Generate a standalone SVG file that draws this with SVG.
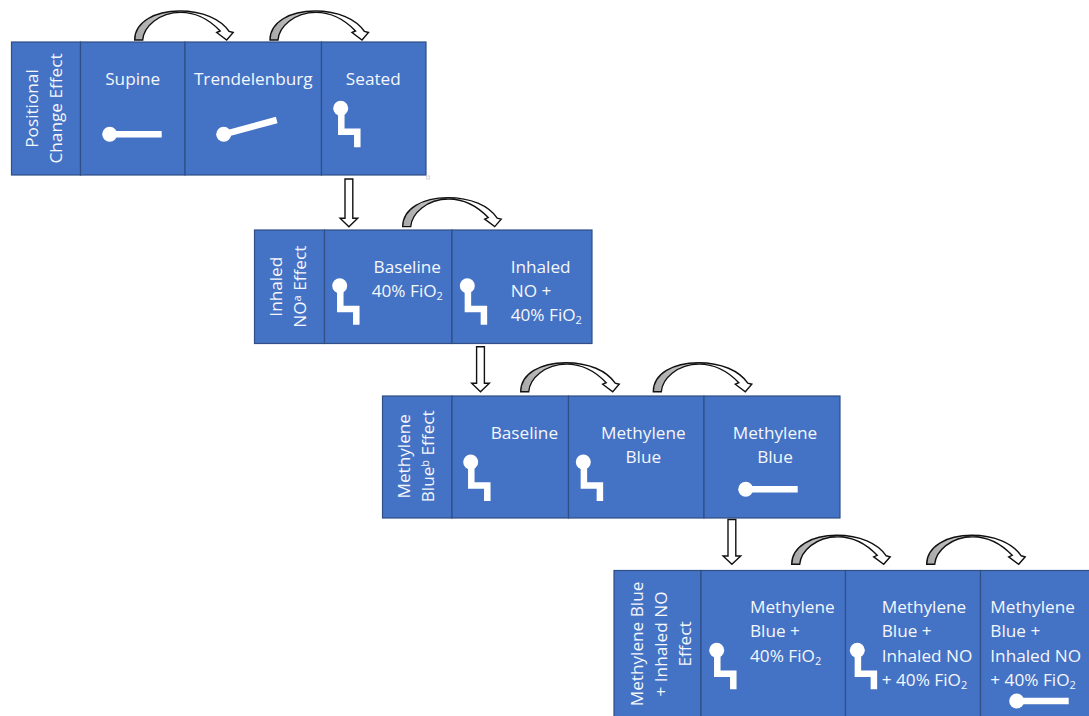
<svg xmlns="http://www.w3.org/2000/svg" width="1089" height="716" viewBox="0 0 1089 716">
<style>
.bg{fill:#4472c4;stroke:#2f4f86;stroke-width:1.2}
.t{font-family:"Open Sans","Noto Sans","Liberation Sans",sans-serif;font-size:17.2px;fill:#f4f7fc}
.m{text-anchor:middle}
.w{fill:#fff;stroke:none}
.wl{fill:none;stroke:#fff;stroke-width:6.5}
.conn{stroke:#111;stroke-width:1.4;stroke-linejoin:miter}
.down{fill:#fff}
</style>
<defs>
<linearGradient id="g" gradientUnits="userSpaceOnUse" x1="0" y1="0" x2="60" y2="0"><stop offset="0" stop-color="#a8a8a8"/><stop offset="0.5" stop-color="#c4c4c4"/><stop offset="0.8" stop-color="#fff"/></linearGradient>
<path id="curve" fill="url(#g)" d="M0,0 L8,0 C9,-13 24,-27.6 46,-27.6 C62,-27.6 75,-20 85.5,-9 L82,-7.5 L92,0 L98.5,-7.5 L94.5,-8.5 C86,-21 68,-29 45,-29 C20,-29 0,-18 0,0 Z"/>
<g id="seated"><circle class="w" r="7.5"/><path class="wl" d="M0.6,0 V23.4 H16.6 V39"/></g>
<g id="flat"><circle class="w" r="7.5"/><path class="wl" d="M0,0 H52"/></g>
</defs>
<rect width="1089" height="716" fill="#fff"/>

<g id="table-positional">
<g id="pos-label"><rect class="bg" x="11.5" y="42" width="69" height="133"/>
<text class="t m" transform="translate(38.3,108.5) rotate(-90)">Positional</text>
<text class="t m" transform="translate(62.3,108.5) rotate(-90)">Change Effect</text></g>
<g id="pos-supine"><rect class="bg" x="80.5" y="42" width="104.5" height="133"/>
<text class="t m" x="132.7" y="85">Supine</text><use href="#flat" x="109.7" y="134.3"/></g>
<g id="pos-trendelenburg"><rect class="bg" x="185" y="42" width="136.5" height="133"/>
<text class="t m" x="253.3" y="85">Trendelenburg</text><circle class="w" cx="223.7" cy="134.3" r="7.5"/><path class="wl" d="M223.7,134.3 L276.7,120"/></g>
<g id="pos-seated"><rect class="bg" x="321.5" y="42" width="104.5" height="133"/>
<text class="t m" x="373.3" y="85">Seated</text><use href="#seated" x="340.7" y="108.3"/></g>
<rect x="426.7" y="176" width="3" height="3" fill="#fff" stroke="#ccc" stroke-width="0.8"/>
</g>

<g id="table-inhaled">
<g id="ino-label"><rect class="bg" x="254.5" y="230" width="70" height="113.5"/>
<text class="t m" transform="translate(282.3,286.7) rotate(-90)">Inhaled</text>
<text class="t m" transform="translate(306,286.7) rotate(-90)">NO<tspan font-size="11" dy="-5">a</tspan><tspan dy="5"> Effect</tspan></text></g>
<g id="ino-baseline"><rect class="bg" x="324.5" y="230" width="127.5" height="113.5"/>
<text class="t m" x="407.3" y="272.7">Baseline</text>
<text class="t" x="371.7" y="297.3">40% FiO<tspan font-size="11" dy="3">2</tspan></text>
<use href="#seated" x="339.7" y="285.7"/></g>
<g id="ino-inhaled"><rect class="bg" x="452" y="230" width="140" height="113.5"/>
<text class="t" x="510.7" y="272.7">Inhaled</text>
<text class="t" x="510.7" y="297">NO +</text>
<text class="t" x="510.7" y="321">40% FiO<tspan font-size="11" dy="3">2</tspan></text>
<use href="#seated" x="467.3" y="285.7"/></g>
</g>

<g id="table-mb">
<g id="mb-label"><rect class="bg" x="382.5" y="396" width="69.5" height="122"/>
<text class="t m" transform="translate(410,456.3) rotate(-90)">Methylene</text>
<text class="t m" transform="translate(434.3,456.3) rotate(-90)">Blue<tspan font-size="11" dy="-5">b</tspan><tspan dy="5"> Effect</tspan></text></g>
<g id="mb-baseline"><rect class="bg" x="452" y="396" width="116.5" height="122"/>
<text class="t" x="490.7" y="439.3">Baseline</text><use href="#seated" x="470.7" y="462"/></g>
<g id="mb-seated"><rect class="bg" x="568.5" y="396" width="135.5" height="122"/>
<text class="t m" x="643.3" y="439.3">Methylene</text><text class="t m" x="643.3" y="463.3">Blue</text><use href="#seated" x="583.3" y="462"/></g>
<g id="mb-supine"><rect class="bg" x="704" y="396" width="136" height="122"/>
<text class="t m" x="775" y="439.3">Methylene</text><text class="t m" x="775" y="463.3">Blue</text><use href="#flat" x="745.7" y="489.3"/></g>
</g>

<g id="table-mbino">
<g id="mbino-label"><rect class="bg" x="614" y="570.5" width="87" height="150"/>
<text class="t m" transform="translate(643.3,644) rotate(-90)">Methylene Blue</text>
<text class="t m" transform="translate(667,644) rotate(-90)">+ Inhaled NO</text>
<text class="t m" transform="translate(690.7,644) rotate(-90)">Effect</text></g>
<g id="mbino-a"><rect class="bg" x="701" y="570.5" width="144.5" height="150"/>
<text class="t" x="750" y="613.3">Methylene</text><text class="t" x="750" y="637.3">Blue +</text>
<text class="t" x="750" y="661.7">40% FiO<tspan font-size="11" dy="3">2</tspan></text>
<use href="#seated" x="716.7" y="650.3"/></g>
<g id="mbino-b"><rect class="bg" x="845.5" y="570.5" width="135" height="150"/>
<text class="t" x="881.7" y="613.3">Methylene</text><text class="t" x="881.7" y="637.3">Blue +</text><text class="t" x="881.7" y="661.7">Inhaled NO</text>
<text class="t" x="881.7" y="685.7">+ 40% FiO<tspan font-size="11" dy="3">2</tspan></text>
<use href="#seated" x="857.3" y="650.3"/></g>
<g id="mbino-c"><rect class="bg" x="980.5" y="570.5" width="115" height="150"/>
<text class="t" x="990.3" y="613.3">Methylene</text><text class="t" x="990.3" y="637.3">Blue +</text><text class="t" x="990.3" y="661.7">Inhaled NO</text>
<text class="t" x="990.3" y="685.7">+ 40% FiO<tspan font-size="11" dy="3">2</tspan></text>
<use href="#flat" x="1016.7" y="701"/></g>
</g>

<g id="connectors" class="conn">
<use href="#curve" x="134.7" y="40"/>
<use href="#curve" x="270" y="40"/>
<use href="#curve" x="402.7" y="226.6"/>
<use href="#curve" x="520.7" y="391.7"/>
<use href="#curve" x="653.3" y="391.7"/>
<use href="#curve" x="791.7" y="564.3"/>
<use href="#curve" x="926.7" y="564.3"/>
<path class="down" d="M345,179 H352.8 V218.3 H357.7 L348.9,226.7 L340.1,218.3 H345 Z"/>
<path class="down" d="M476.6,346.7 H484.4 V383.3 H489.3 L480.5,391.7 L471.7,383.3 H476.6 Z"/>
<path class="down" d="M728,519.5 H735.8 V556 H740.7 L731.9,564.3 L723.1,556 H728 Z"/>
</g>
</svg>
